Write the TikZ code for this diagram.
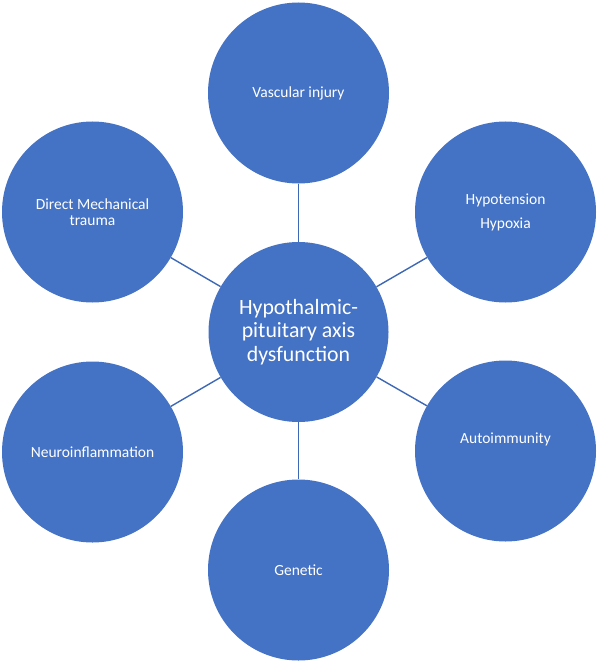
\documentclass[tikz,border=0pt]{standalone}
\usepackage{fontspec}
\setmainfont{Carlito}
\usepackage{xcolor}
\usepackage{tikz}

\definecolor{causeblue}{HTML}{4472C4}
\definecolor{linkblue}{HTML}{3D68B5}

\begin{document}
\begin{tikzpicture}[x=1pt,y=-1pt,
    cause/.style={circle, fill=causeblue, text=white, minimum size=181pt, inner sep=0pt, align=center, font=\fontsize{15.5}{16}\selectfont},
    axis/.style={cause, minimum size=180pt, font=\fontsize{21.8}{23.3}\selectfont},
    link/.style={draw=linkblue, line width=1.4pt}]
\useasboundingbox (0,0) rectangle (598,663);
\node[axis] (hpa) at (298.5,332) {Hypothalmic-\\pituitary axis\\dysfunction};
\node[cause] (vascular) at (298.5,93) {Vascular injury};
\node[cause] (hypotension) at (505.5,212) {Hypotension\\[8pt]Hypoxia};
\node[cause] (trauma) at (92.5,212) {Direct Mechanical\\trauma};
\node[cause] (neuro) at (92.5,452) {Neuroinflammation};
\node[cause, label={[text=white, font=\fontsize{15.5}{16}\selectfont, yshift=12pt]center:Autoimmunity}] (auto) at (505.5,451) {};
\node[cause] (genetic) at (298.5,570) {Genetic};
\draw[link] (hpa) -- (vascular);
\draw[link] (hpa) -- (hypotension);
\draw[link] (hpa) -- (trauma);
\draw[link] (hpa) -- (neuro);
\draw[link] (hpa) -- (auto);
\draw[link] (hpa) -- (genetic);
\end{tikzpicture}
\end{document}
